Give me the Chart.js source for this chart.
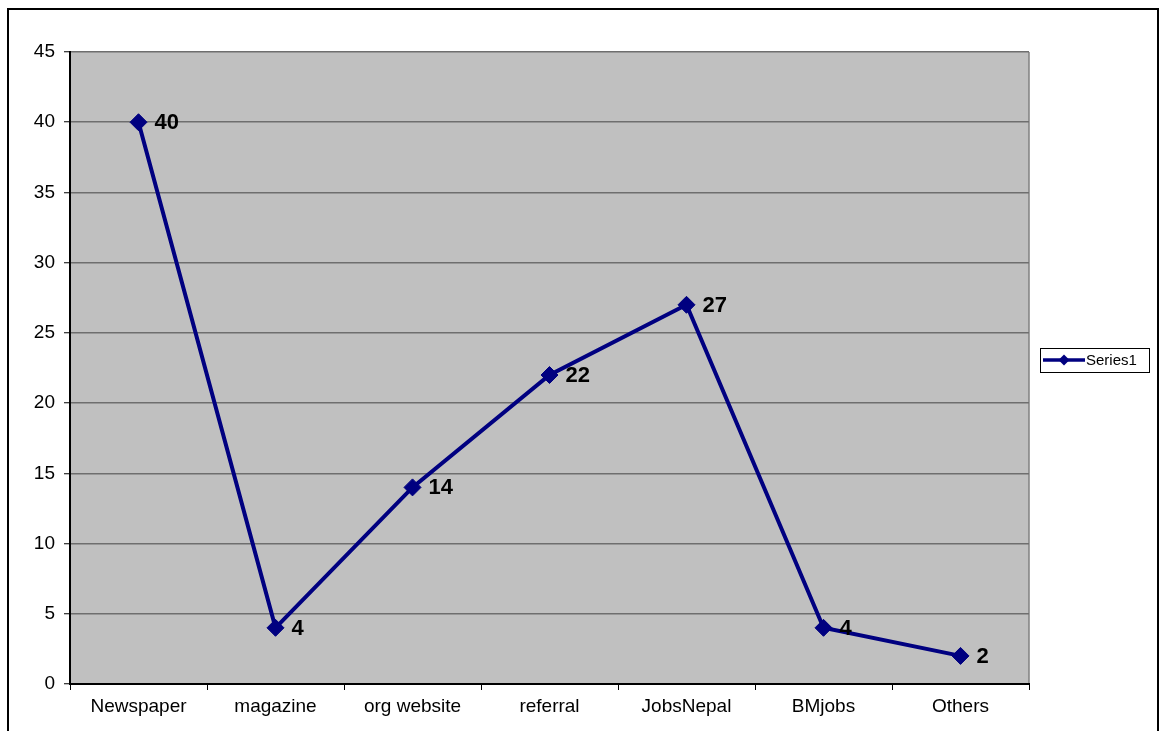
<!DOCTYPE html>
<html>
<head>
<meta charset="utf-8">
<title>Series1</title>
<script src="https://cdn.jsdelivr.net/npm/chart.js@4.4.1/dist/chart.umd.min.js"></script>
<style>
  html, body { margin: 0; padding: 0; background: #ffffff; }
  #wrap { position: relative; width: 1160px; height: 731px; }
</style>
</head>
<body>
<div id="wrap"><canvas id="chart" width="1160" height="731"></canvas></div>
<script>
// Categories and values of the single series
const categories = ['Newspaper', 'magazine', 'org website', 'referral', 'JobsNepal', 'BMjobs', 'Others'];
const series1 = [40, 4, 14, 22, 27, 4, 2];
const seriesName = 'Series1';
const yTicks = [0, 5, 10, 15, 20, 25, 30, 35, 40, 45];

const FONT = '"Liberation Sans", Arial, sans-serif';
const NAVY = '#000080';

// Grey plot background, right edge line and the outer frame
const framePlugin = {
  id: 'frame',
  beforeDraw(chart) {
    const { ctx, chartArea: a } = chart;
    ctx.save();
    ctx.fillStyle = '#ffffff';
    ctx.fillRect(0, 0, chart.width, chart.height);
    ctx.strokeStyle = '#000000';
    ctx.lineWidth = 2;
    ctx.strokeRect(8, 9, 1150, 760);
    ctx.fillStyle = '#C0C0C0';
    ctx.fillRect(a.left, a.top, a.right - a.left, a.bottom - a.top);
    ctx.strokeStyle = '#808080';
    ctx.lineWidth = 1.5;
    ctx.beginPath();
    ctx.moveTo(a.right, a.top);
    ctx.lineTo(a.right, a.bottom);
    ctx.stroke();
    ctx.restore();
  }
};

// Value labels to the right of each marker
const valueLabels = {
  id: 'valueLabels',
  afterDatasetsDraw(chart) {
    const { ctx } = chart;
    const meta = chart.getDatasetMeta(0);
    const values = chart.data.datasets[0].data;
    ctx.save();
    ctx.font = 'bold 22px ' + FONT;
    ctx.fillStyle = '#000000';
    ctx.textAlign = 'left';
    ctx.textBaseline = 'middle';
    meta.data.forEach((pt, i) => {
      ctx.fillText(String(values[i]), pt.x + 16, pt.y + 1);
    });
    ctx.restore();
  }
};

// Boxed legend on the right
const boxLegend = {
  id: 'boxLegend',
  afterDraw(chart) {
    const { ctx } = chart;
    const ds = chart.data.datasets[0];
    const x = 1040, y = 348, w = 109, h = 24;
    const cy = y + h / 2;
    ctx.save();
    ctx.fillStyle = '#ffffff';
    ctx.fillRect(x, y, w, h);
    ctx.strokeStyle = '#000000';
    ctx.lineWidth = 1;
    ctx.strokeRect(x + 0.5, y + 0.5, w, h);
    ctx.strokeStyle = ds.borderColor;
    ctx.lineWidth = 3.5;
    ctx.beginPath();
    ctx.moveTo(x + 3, cy);
    ctx.lineTo(x + 45, cy);
    ctx.stroke();
    ctx.fillStyle = ds.borderColor;
    ctx.beginPath();
    ctx.moveTo(x + 24 - 5.5, cy);
    ctx.lineTo(x + 24, cy - 5.5);
    ctx.lineTo(x + 24 + 5.5, cy);
    ctx.lineTo(x + 24, cy + 5.5);
    ctx.closePath();
    ctx.fill();
    ctx.fillStyle = '#000000';
    ctx.font = '15px ' + FONT;
    ctx.textAlign = 'left';
    ctx.textBaseline = 'middle';
    ctx.fillText(ds.label, x + 46, cy + 1);
    ctx.restore();
  }
};

new Chart(document.getElementById('chart'), {
  type: 'line',
  data: {
    labels: categories,
    datasets: [{
      label: seriesName,
      data: series1,
      borderColor: NAVY,
      backgroundColor: NAVY,
      borderWidth: 4,
      tension: 0,
      pointStyle: 'rectRot',
      pointRadius: 8.5,
      pointHoverRadius: 8.5,
      pointBackgroundColor: NAVY,
      pointBorderColor: NAVY,
      pointBorderWidth: 1
    }]
  },
  options: {
    responsive: false,
    animation: false,
    devicePixelRatio: 1,
    layout: { padding: { left: 0, top: 52, right: 131, bottom: 0 } },
    plugins: {
      legend: { display: false },
      tooltip: { enabled: false }
    },
    scales: {
      x: {
        type: 'category',
        offset: true,
        afterFit(scale) { scale.height = 47; },
        grid: {
          offset: true,
          drawOnChartArea: false,
          drawTicks: true,
          tickLength: 6,
          tickColor: '#000000',
          tickWidth: 1
        },
        border: { display: true, color: '#000000', width: 2 },
        ticks: {
          color: '#000000',
          font: { family: FONT, size: 19 },
          padding: 5,
          maxRotation: 0,
          autoSkip: false
        }
      },
      y: {
        min: 0,
        max: 45,
        afterFit(scale) { scale.width = 70; },
        afterBuildTicks(scale) { scale.ticks = yTicks.map(v => ({ value: v })); },
        grid: {
          color: '#6e6e6e',
          lineWidth: 1.5,
          drawTicks: true,
          tickLength: 6,
          tickColor: '#000000',
          tickWidth: 1
        },
        border: { display: true, color: '#000000', width: 2 },
        ticks: {
          color: '#000000',
          font: { family: FONT, size: 19 },
          padding: 9
        }
      }
    }
  },
  plugins: [framePlugin, valueLabels, boxLegend]
});
</script>
</body>
</html>
